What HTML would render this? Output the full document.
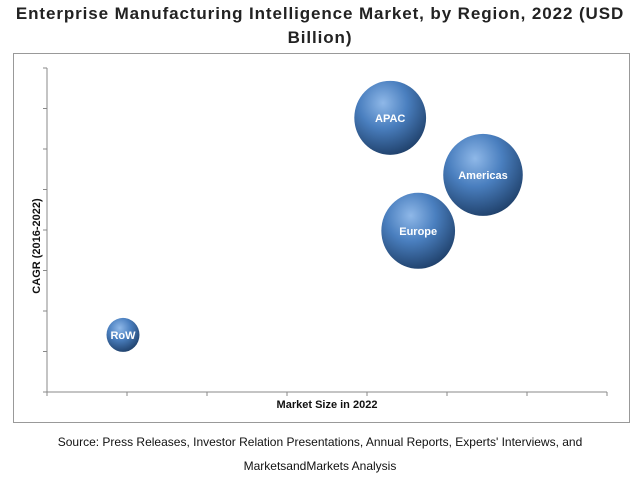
<!DOCTYPE html>
<html><head><meta charset="utf-8"><style>
body{margin:0;width:640px;height:479px;background:#fff;font-family:"Liberation Sans",sans-serif;overflow:hidden}
#title{position:absolute;left:0;top:2px;width:640px;text-align:center;font-weight:bold;font-size:17px;letter-spacing:0.9px;line-height:24px;color:#222}
#src{position:absolute;left:0;top:430px;width:640px;text-align:center;font-size:12px;line-height:24px;color:#111}
svg{position:absolute;left:0;top:0}
</style></head><body>
<div id="title">Enterprise Manufacturing Intelligence Market, by Region, 2022 (USD<br>Billion)</div>
<svg width="640" height="479">
<defs>
<radialGradient id="g" cx="0.4" cy="0.3" r="0.75">
<stop offset="0" stop-color="#8fb8e8"/><stop offset="0.45" stop-color="#4a7fbf"/><stop offset="1" stop-color="#1d3d66"/>
</radialGradient>
</defs>
<rect x="13.5" y="53.5" width="616" height="369" fill="none" stroke="#999"/>
<g id="axes"></g><g id="bubbles"></g>
<text x="24" y="230" transform="rotate(-90 40 230)" font-size="11" font-weight="bold" text-anchor="middle" fill="#111">CAGR (2016-2022)</text>
<text x="327" y="408" font-size="11" font-weight="bold" text-anchor="middle" fill="#111">Market Size in 2022</text>
</svg>
<div id="src">Source: Press Releases, Investor Relation Presentations, Annual Reports, Experts' Interviews, and<br>MarketsandMarkets Analysis</div>
<script>
const regions=["APAC","Americas","Europe","RoW"];
const marketSize=[4.29,5.45,4.64,0.95];
const cagr=[6.77,5.36,3.98,1.41];
const bubbleSize=[37,41,38,17];
const xMax=7, yMax=8;
const X0=47,X1=607,Y0=392,Y1=68;
const sx=v=>X0+(X1-X0)*v/xMax, sy=v=>Y0-(Y0-Y1)*v/yMax;
const NS="http://www.w3.org/2000/svg";
const ax=document.getElementById('axes'), bb=document.getElementById('bubbles');
function mk(t,a,p){const e=document.createElementNS(NS,t);for(const k in a)e.setAttribute(k,a[k]);p.appendChild(e);return e;}
let l=mk('line',{x1:X0,y1:Y1,x2:X0,y2:Y0,stroke:'#888'},ax);


l=mk('line',{x1:X0,y1:Y0,x2:X1,y2:Y0,stroke:'#888'},ax);


for(let i=0;i<=yMax;i++){const t=mk('line',{x1:X0-4,x2:X0,y1:sy(i),y2:sy(i),stroke:'#888'},ax);

}
for(let i=0;i<=xMax;i++){const t=mk('line',{x1:sx(i),x2:sx(i),y1:Y0,y2:Y0+4,stroke:'#888'},ax);

}
regions.forEach((r,i)=>{
const c=mk('ellipse',{cx:sx(marketSize[i]),cy:sy(cagr[i]),rx:bubbleSize[i]*0.97,ry:bubbleSize[i],fill:'url(#g)'},bb);


const t=mk('text',{x:sx(marketSize[i]),y:sy(cagr[i])+4,'text-anchor':'middle','font-size':11,'font-weight':'bold',fill:'#fff'},bb);
t.textContent=r;


});
</script>
</body></html>
